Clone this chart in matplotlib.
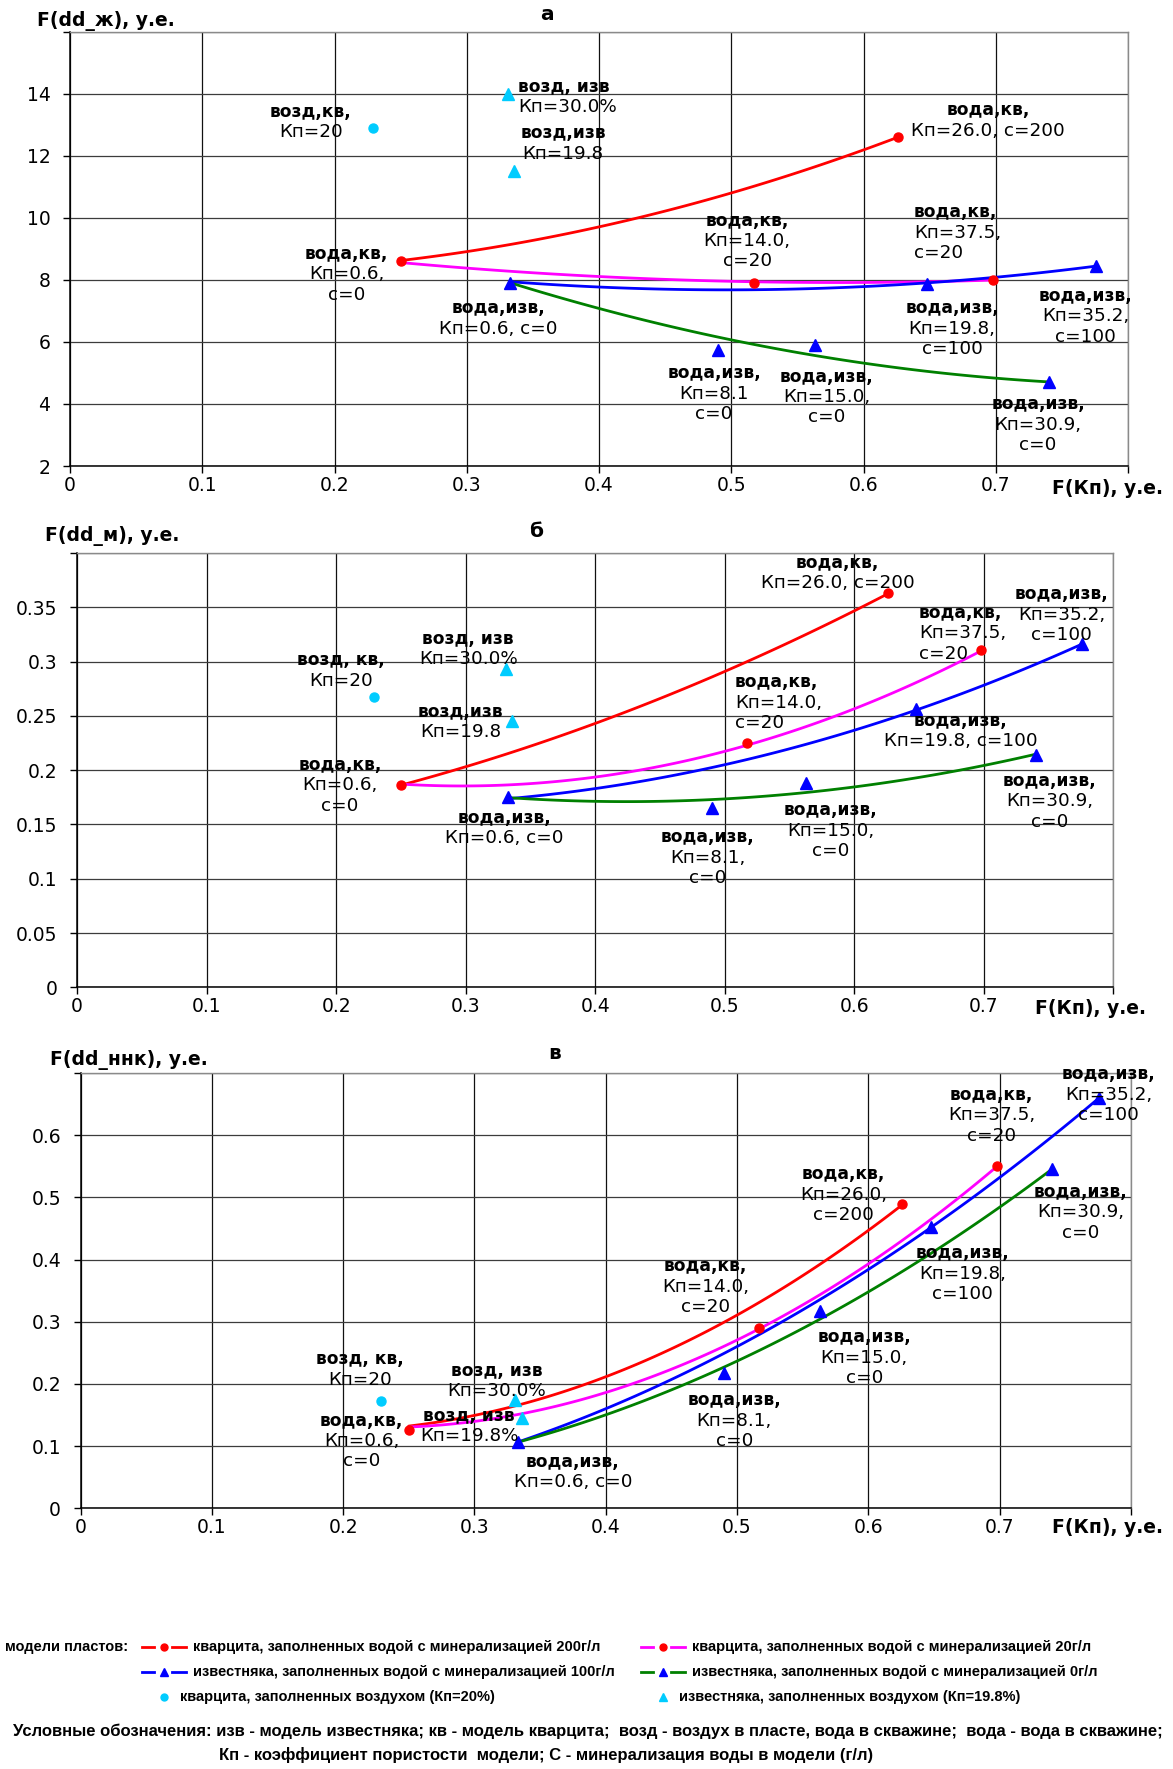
import numpy as np
import matplotlib

matplotlib.use("Agg")
import matplotlib.pyplot as plt
from matplotlib import font_manager
from matplotlib.ticker import MultipleLocator, FuncFormatter

W, H, DPI = 1173, 1769, 100

RED = "#ff0000"
MAGENTA = "#ff00ff"
BLUE = "#0000ff"
GREEN = "#008000"
CYAN = "#00ccff"

# F(Кп) of the models, shared by all three panels
KV_WATER_X = [0.25, 0.517, 0.626, 0.698]                 # кварцит, Кп = 0.6 / 14.0 / 26.0 / 37.5
IZV_WATER_X = [0.333, 0.49, 0.563, 0.648, 0.74, 0.776]   # известняк, Кп = 0.6 / 8.1 / 15.0 / 19.8 / 30.9 / 35.2
AIR_KV_X = [0.229]
AIR_IZV_X = [0.331, 0.336]

# trend lines: abscissas of the sampled points
RED_TX = [0.25, 0.3, 0.4, 0.5, 0.6, 0.626]
MAGENTA_TX = [0.25, 0.3, 0.4, 0.5, 0.6, 0.698]
BLUE_TX = [0.333, 0.4, 0.5, 0.6, 0.7, 0.776]
GREEN_TX = [0.333, 0.4, 0.5, 0.6, 0.7, 0.74]

# panel а: F(dd_ж)
A_KV_Y = [8.6, 7.9, 12.6, 8.0]
A_IZV_Y = [7.9, 5.74, 5.9, 7.87, 4.7, 8.45]
A_AIR_KV_Y = [12.9]
A_AIR_IZV_Y = [14.0, 11.5]
A_RED_TY = [8.6, 8.95, 9.69, 10.8, 12.19, 12.6]
A_MAGENTA_TY = [8.6, 8.3, 8.16, 7.95, 7.9, 8.0]
A_BLUE_TY = [7.9, 7.84, 7.66, 7.76, 8.09, 8.45]
A_GREEN_TY = [7.9, 7.09, 6.06, 5.31, 4.85, 4.7]

# panel б: F(dd_м)
B_KV_Y = [0.186, 0.225, 0.363, 0.311]
B_IZV_Y = [0.175, 0.165, 0.188, 0.256, 0.214, 0.316]
B_AIR_KV_Y = [0.267]
B_AIR_IZV_Y = [0.293, 0.245]
B_RED_TY = [0.186, 0.203, 0.244, 0.29, 0.3465, 0.363]
B_MAGENTA_TY = [0.186, 0.186, 0.196, 0.216, 0.255, 0.311]
B_BLUE_TY = [0.175, 0.181, 0.205, 0.238, 0.278, 0.316]
B_GREEN_TY = [0.175, 0.171, 0.173, 0.185, 0.205, 0.214]

# panel в: F(dd_ннк)
C_KV_Y = [0.126, 0.29, 0.489, 0.551]
C_IZV_Y = [0.106, 0.217, 0.317, 0.453, 0.545, 0.66]
C_AIR_KV_Y = [0.173]
C_AIR_IZV_Y = [0.175, 0.146]
C_RED_TY = [0.126, 0.159, 0.21, 0.307, 0.448, 0.489]
C_MAGENTA_TY = [0.126, 0.147, 0.184, 0.271, 0.391, 0.551]
C_BLUE_TY = [0.106, 0.161, 0.26, 0.383, 0.533, 0.66]
C_GREEN_TY = [0.106, 0.151, 0.236, 0.348, 0.485, 0.545]

# point captions: x, y of the first line, lines, alignment
A_TAGS = [
    (0.182, 13.41, ["возд,кв,", "Кп=20"], "center"),
    (0.339, 14.22, ["возд, изв", "Кп=30.0%"], "left"),
    (0.373, 12.73, ["возд,изв", "Кп=19.8"], "center"),
    (0.209, 8.84, ["вода,кв,", "Кп=0.6,", "c=0"], "center"),
    (0.324, 7.09, ["вода,изв,", "Кп=0.6, c=0"], "center"),
    (0.694, 13.46, ["вода,кв,", "Кп=26.0, c=200"], "center"),
    (0.512, 9.91, ["вода,кв,", "Кп=14.0,", "c=20"], "center"),
    (0.638, 10.18, ["вода,кв,", "Кп=37.5,", "c=20"], "left"),
    (0.667, 7.09, ["вода,изв,", "Кп=19.8,", "c=100"], "center"),
    (0.768, 7.49, ["вода,изв,", "Кп=35.2,", "c=100"], "center"),
    (0.487, 4.99, ["вода,изв,", "Кп=8.1", "c=0"], "center"),
    (0.572, 4.88, ["вода,изв,", "Кп=15.0,", "c=0"], "center"),
    (0.732, 3.99, ["вода,изв,", "Кп=30.9,", "c=0"], "center"),
]
B_TAGS = [
    (0.204, 0.301, ["возд, кв,", "Кп=20"], "center"),
    (0.302, 0.321, ["возд, изв", "Кп=30.0%"], "center"),
    (0.296, 0.254, ["возд,изв", "Кп=19.8"], "center"),
    (0.203, 0.205, ["вода,кв,", "Кп=0.6,", "c=0"], "center"),
    (0.330, 0.156, ["вода,изв,", "Кп=0.6, c=0"], "center"),
    (0.587, 0.391, ["вода,кв,", "Кп=26.0, c=200"], "center"),
    (0.650, 0.345, ["вода,кв,", "Кп=37.5,", "c=20"], "left"),
    (0.760, 0.362, ["вода,изв,", "Кп=35.2,", "c=100"], "center"),
    (0.508, 0.281, ["вода,кв,", "Кп=14.0,", "c=20"], "left"),
    (0.682, 0.2455, ["вода,изв,", "Кп=19.8, c=100"], "center"),
    (0.751, 0.190, ["вода,изв,", "Кп=30.9,", "c=0"], "center"),
    (0.582, 0.163, ["вода,изв,", "Кп=15.0,", "c=0"], "center"),
    (0.487, 0.138, ["вода,изв,", "Кп=8.1,", "c=0"], "center"),
]
C_TAGS = [
    (0.213, 0.240, ["возд, кв,", "Кп=20"], "center"),
    (0.317, 0.221, ["возд, изв", "Кп=30.0%"], "center"),
    (0.214, 0.141, ["вода,кв,", "Кп=0.6,", "c=0"], "center"),
    (0.296, 0.1485, ["возд, изв", "Кп=19.8%"], "center"),
    (0.375, 0.0745, ["вода,изв,", "Кп=0.6, c=0"], "center"),
    (0.783, 0.698, ["вода,изв,", "Кп=35.2,", "c=100"], "center"),
    (0.694, 0.665, ["вода,кв,", "Кп=37.5,", "c=20"], "center"),
    (0.581, 0.537, ["вода,кв,", "Кп=26.0,", "c=200"], "center"),
    (0.762, 0.509, ["вода,изв,", "Кп=30.9,", "c=0"], "center"),
    (0.672, 0.410, ["вода,изв,", "Кп=19.8,", "c=100"], "center"),
    (0.476, 0.389, ["вода,кв,", "Кп=14.0,", "c=20"], "center"),
    (0.597, 0.275, ["вода,изв,", "Кп=15.0,", "c=0"], "center"),
    (0.498, 0.174, ["вода,изв,", "Кп=8.1,", "c=0"], "center"),
]

LEGEND_ROWS = [
    ("кварцита, заполненных водой с минерализацией 200г/л", RED, RED, "o"),
    ("кварцита, заполненных водой с минерализацией 20г/л", MAGENTA, RED, "o"),
    ("известняка, заполненных водой с минерализацией 100г/л", BLUE, BLUE, "^"),
    ("известняка, заполненных водой с минерализацией 0г/л", GREEN, BLUE, "^"),
    ("кварцита, заполненных воздухом (Кп=20%)", None, CYAN, "o"),
    ("известняка, заполненных воздухом (Кп=19.8%)", None, CYAN, "^"),
]
NOTE_1 = ("Условные обозначения: изв - модель известняка; кв - модель кварцита;  "
          "возд - воздух в пласте, вода в скважине;  вода - вода в скважине;")
NOTE_2 = "Кп - коэффициент пористости  модели; С - минерализация воды в модели (г/л)"

TAG_BOLD = 12.3
TAG_SIZE = 13.2
TAG_STEP = 14.7
TICK_SIZE = 13.5

plt.rcParams["font.family"] = ["DejaVu Sans"]

installed = {f.name for f in font_manager.fontManager.ttflist}
if "Liberation Sans Narrow" in installed:
    LEGEND_FONT, LEGEND_SIZE, NOTE_SIZE = "Liberation Sans Narrow", 12.5, 14.5
else:
    LEGEND_FONT, LEGEND_SIZE, NOTE_SIZE = "Liberation Sans", 10.5, 12.0


def px_axes(fig, left, top, right, bottom):
    return fig.add_axes([left / W, 1 - bottom / H, (right - left) / W, (bottom - top) / H])


def add_tag(ax, x, y, lines, ha):
    ax.annotate(lines[0], (x, y), ha=ha, va="center", fontsize=TAG_BOLD,
                fontweight="bold", annotation_clip=False, zorder=6)
    for i, line in enumerate(lines[1:], start=1):
        ax.annotate(line, (x, y), xytext=(0, -i * TAG_STEP), textcoords="offset points",
                    ha=ha, va="center", fontsize=TAG_SIZE, annotation_clip=False, zorder=6)


def add_trend(ax, tx, ty, color):
    coef = np.polyfit(tx, ty, 2)
    xs = np.linspace(tx[0], tx[-1], 120)
    ax.plot(xs, np.polyval(coef, xs), color=color, lw=2.0, zorder=3, solid_capstyle="round")


def label_fmt(top):
    def fmt(v, _):
        if v >= top - 1e-9:
            return ""
        return f"{round(v, 3):g}"
    return FuncFormatter(fmt)


def style_axes(ax, ylim, ystep):
    ax.set_xlim(0, 0.8)
    ax.set_ylim(*ylim)
    ax.xaxis.set_major_locator(MultipleLocator(0.1))
    ax.yaxis.set_major_locator(MultipleLocator(ystep))
    ax.xaxis.set_major_formatter(label_fmt(0.8))
    ax.yaxis.set_major_formatter(label_fmt(ylim[1]))
    ax.xaxis.grid(True, color="#111111", lw=0.9)
    ax.yaxis.grid(True, color="#3c3c3c", lw=0.9)
    ax.set_axisbelow(True)
    for side in ("left", "bottom"):
        ax.spines[side].set_color("black")
        ax.spines[side].set_linewidth(1.1)
    for side in ("top", "right"):
        ax.spines[side].set_color("#8a8a8a")
        ax.spines[side].set_linewidth(1.0)
    ax.tick_params(direction="out", length=5, width=1, color="black",
                   labelsize=TICK_SIZE, labelcolor="black")
    ax.tick_params(axis="x", pad=2)
    ax.tick_params(axis="y", pad=9)


def draw_panel(ax, kv_y, izv_y, air_kv_y, air_izv_y, trends, tags, ylim, ystep):
    style_axes(ax, ylim, ystep)
    for tx, ty, color in trends:
        add_trend(ax, tx, ty, color)
    ax.plot(KV_WATER_X, kv_y, "o", color=RED, ms=6.5, zorder=4, clip_on=False)
    ax.plot(IZV_WATER_X, izv_y, "^", color=BLUE, ms=8.5, zorder=4, clip_on=False)
    ax.plot(AIR_KV_X, air_kv_y, "o", color=CYAN, ms=6.5, zorder=4)
    ax.plot(AIR_IZV_X, air_izv_y, "^", color=CYAN, ms=8.5, zorder=4)
    for x, y, lines, ha in tags:
        add_tag(ax, x, y, lines, ha)


def draw_headers(page):
    bold = dict(fontweight="bold", va="center", fontsize=13.5)
    page.text(37, 21, "F(dd_ж), у.е.", ha="left", **bold)
    page.text(45, 536, "F(dd_м), у.е.", ha="left", **bold)
    page.text(50, 1060, "F(dd_ннк), у.е.", ha="left", **bold)
    for x, y in ((1052, 488), (1035, 1008), (1052, 1527)):
        page.text(x, y, "F(Кп), у.е.", ha="left", **bold)
    title = dict(fontweight="bold", va="center", ha="center", fontsize=14.5)
    page.text(547, 14, "а", **title)
    page.text(536, 531, "б", **title)
    page.text(555, 1053, "в", **title)


def draw_legend(page):
    font = dict(family=[LEGEND_FONT, "DejaVu Sans"], fontweight="bold", va="center")
    page.text(5, 1647, "модели пластов:", ha="left", fontsize=LEGEND_SIZE, **font)
    slots = [(142, 1647), (641, 1647), (142, 1672), (641, 1672), (142, 1697), (641, 1697)]
    for (label, line_color, marker_color, marker), (x0, y) in zip(LEGEND_ROWS, slots):
        mx = x0 + 22
        if line_color:
            page.plot([x0, x0 + 12], [y, y], color=line_color, lw=2)
            page.plot([x0 + 30, x0 + 44], [y, y], color=line_color, lw=2)
            text_x = x0 + 51
        else:
            text_x = x0 + 38
        page.plot([mx], [y], marker, color=marker_color, ms=5 if marker == "o" else 6)
        page.text(text_x, y, label, ha="left", fontsize=LEGEND_SIZE, **font)
    page.text(588, 1731, NOTE_1, ha="center", fontsize=NOTE_SIZE, **font)
    page.text(546, 1755, NOTE_2, ha="center", fontsize=NOTE_SIZE, **font)


def main():
    fig = plt.figure(figsize=(W / DPI, H / DPI), dpi=DPI, facecolor="white")

    ax_a = px_axes(fig, 70, 31.7, 1128, 466)
    ax_b = px_axes(fig, 77, 553, 1113.4, 987.3)
    ax_c = px_axes(fig, 80.5, 1073.1, 1130.8, 1508.3)

    draw_panel(ax_a, A_KV_Y, A_IZV_Y, A_AIR_KV_Y, A_AIR_IZV_Y,
               [(RED_TX, A_RED_TY, RED), (MAGENTA_TX, A_MAGENTA_TY, MAGENTA),
                (BLUE_TX, A_BLUE_TY, BLUE), (GREEN_TX, A_GREEN_TY, GREEN)],
               A_TAGS, (2, 16), 2)
    draw_panel(ax_b, B_KV_Y, B_IZV_Y, B_AIR_KV_Y, B_AIR_IZV_Y,
               [(RED_TX, B_RED_TY, RED), (MAGENTA_TX, B_MAGENTA_TY, MAGENTA),
                (BLUE_TX, B_BLUE_TY, BLUE), (GREEN_TX, B_GREEN_TY, GREEN)],
               B_TAGS, (0, 0.4), 0.05)
    draw_panel(ax_c, C_KV_Y, C_IZV_Y, C_AIR_KV_Y, C_AIR_IZV_Y,
               [(RED_TX, C_RED_TY, RED), (MAGENTA_TX, C_MAGENTA_TY, MAGENTA),
                (BLUE_TX, C_BLUE_TY, BLUE), (GREEN_TX, C_GREEN_TY, GREEN)],
               C_TAGS, (0, 0.7), 0.1)

    page = fig.add_axes([0, 0, 1, 1])
    page.set_xlim(0, W)
    page.set_ylim(H, 0)
    page.patch.set_visible(False)
    page.axis("off")

    draw_headers(page)
    draw_legend(page)

    fig.savefig("out.png", dpi=DPI, facecolor="white")
    plt.close(fig)


if __name__ == "__main__":
    main()
